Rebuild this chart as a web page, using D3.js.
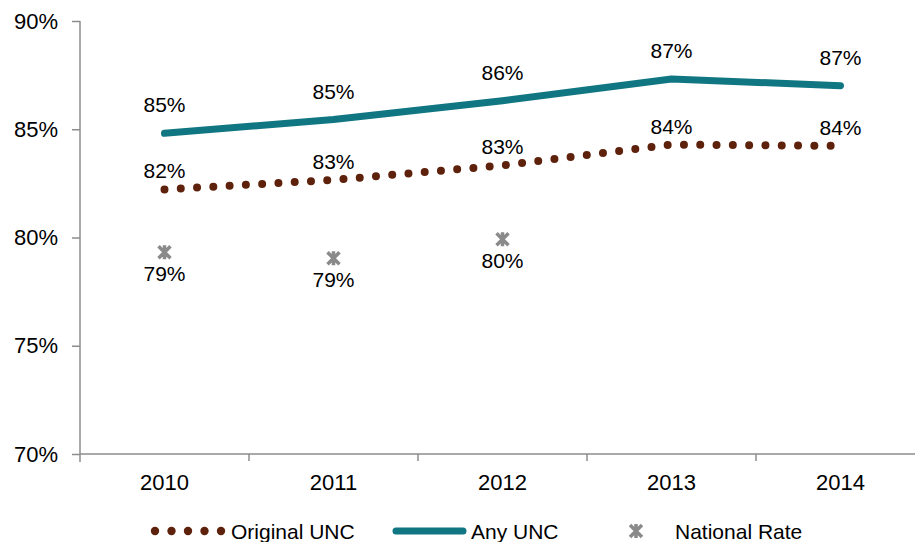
<!DOCTYPE html>
<html>
<head>
<meta charset="utf-8">
<script src="https://cdn.jsdelivr.net/npm/d3@7"></script>
<style>
  body { margin: 0; background: #fff; }
  text { font-family: "Liberation Sans", Arial, sans-serif; fill: #000; }
</style>
</head>
<body>
<svg width="915" height="542"></svg>
<script>
// chart values
const years = ['2010', '2011', '2012', '2013', '2014'];
const originalUnc = [82.22, 82.66, 83.33, 84.29, 84.23];
const anyUnc = [84.81, 85.45, 86.32, 87.32, 87.01];
const nationalRate = [79.32, 79.04, 79.92, null, null];
const yTicks = [70, 75, 80, 85, 90];

const svg = d3.select('svg');
const axisColor = '#8c8c8c';
const brown = '#5e210b';
const teal = '#107682';
const grey = '#8a8a8a';

const x = d3.scaleBand().domain(years).range([80, 925]).padding(0);
const y = d3.scaleLinear().domain([70, 90]).range([454, 21]);
const cx = d => x(d) + x.bandwidth() / 2;

// y axis
const yAxis = svg.append('g')
    .attr('transform', 'translate(80,0)')
    .call(d3.axisLeft(y).tickValues(yTicks).tickSize(8).tickPadding(14)
        .tickFormat(d => d + '%'));
yAxis.selectAll('path, line').attr('stroke', axisColor).attr('stroke-width', 1.5);
yAxis.select('.domain').attr('d', 'M0,21V462');
yAxis.selectAll('text').attr('font-size', 22).style('font-family', '"Liberation Sans", Arial, sans-serif').attr('fill', '#000');

// x axis
const xAxis = svg.append('g')
    .attr('transform', 'translate(0,454)');
xAxis.append('line')
    .attr('x1', 80).attr('x2', 925)
    .attr('stroke', axisColor).attr('stroke-width', 1.5);
xAxis.selectAll('.tk')
    .data(years.slice(1))
    .enter().append('line')
    .attr('class', 'tk')
    .attr('x1', d => x(d)).attr('x2', d => x(d))
    .attr('y1', 0).attr('y2', 7)
    .attr('stroke', axisColor).attr('stroke-width', 1.5);
xAxis.selectAll('.lbl')
    .data(years)
    .enter().append('text')
    .attr('class', 'lbl')
    .attr('x', d => cx(d))
    .attr('y', 36)
    .attr('text-anchor', 'middle')
    .attr('font-size', 22)
    .text(d => d);

const line = d3.line().x((d, i) => cx(years[i])).y(d => y(d));

// Any UNC
svg.append('path')
    .attr('d', line(anyUnc))
    .attr('fill', 'none')
    .attr('stroke', teal)
    .attr('stroke-width', 7)
    .attr('stroke-linecap', 'round')
    .attr('stroke-linejoin', 'round');

// Original UNC (dotted)
svg.append('path')
    .attr('d', line(originalUnc))
    .attr('fill', 'none')
    .attr('stroke', brown)
    .attr('stroke-width', 8)
    .attr('stroke-linecap', 'round')
    .attr('stroke-dasharray', '0 16.3');

// national rate markers
function star(g, px, py) {
    g.append('path')
        .attr('d', `M${px - 6},${py - 6}L${px + 6},${py + 6}M${px - 6},${py + 6}L${px + 6},${py - 6}M${px},${py - 7}V${py + 7}`)
        .attr('stroke', grey)
        .attr('stroke-width', 3.5)
        .attr('fill', 'none');
}
nationalRate.forEach((v, i) => {
    if (v === null) return;
    star(svg, cx(years[i]), y(v));
});

// data labels
const fmt = v => Math.round(v) + '%';
function labels(values, dy) {
    svg.append('g').selectAll('text')
        .data(values.map((v, i) => ({ v, year: years[i] })).filter(d => d.v !== null))
        .enter().append('text')
        .attr('x', d => cx(d.year))
        .attr('y', d => y(d.v) + dy)
        .attr('text-anchor', 'middle')
        .attr('font-size', 21)
        .text(d => fmt(d.v));
}
labels(anyUnc, -21);
labels(originalUnc, -11);
labels(nationalRate, 29);

// legend
const leg = svg.append('g').attr('transform', 'translate(0,531)');
[155, 171.5, 188, 204.5, 221].forEach(px => {
    leg.append('circle').attr('cx', px).attr('cy', 0).attr('r', 4.2).attr('fill', brown);
});
leg.append('text').attr('x', 231).attr('y', 7.5).attr('font-size', 21).text('Original UNC');
leg.append('line')
    .attr('x1', 396).attr('x2', 463).attr('y1', 0).attr('y2', 0)
    .attr('stroke', teal).attr('stroke-width', 7).attr('stroke-linecap', 'round');
leg.append('text').attr('x', 471).attr('y', 7.5).attr('font-size', 21).text('Any UNC');
star(leg, 636, 0);
leg.append('text').attr('x', 675).attr('y', 7.5).attr('font-size', 21).text('National Rate');
</script>
</body>
</html>
